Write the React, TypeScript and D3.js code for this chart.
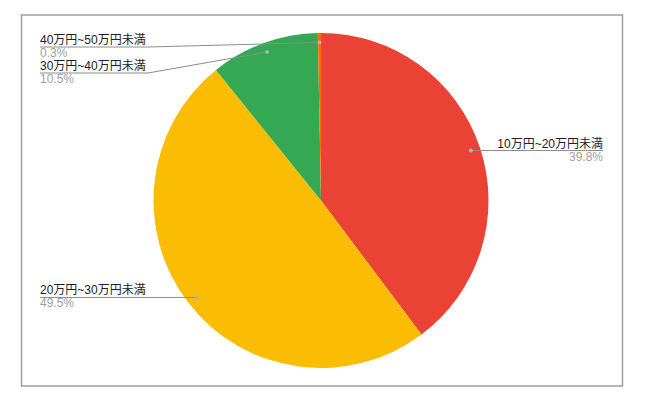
import React from 'react';
import * as d3 from 'd3';

// slice data, clockwise from 12 o'clock
const categories = ['10万円~20万円未満', '20万円~30万円未満', '30万円~40万円未満', '40万円~50万円未満'];
const shares = [39.8, 49.5, 10.5, 0.3];
const sliceColors = ['#ea4335', '#fbbc04', '#34a853', '#ff6d01'];

const W = 649;
const H = 405;
const cx = 321;
const cy = 200.5;
const R = 167.5;
const dotR = 158;
const FONT = '"Liberation Sans", Arial, "Noto Sans CJK JP", sans-serif';

interface Slice {
  name: string;
  value: number;
  color: string;
}

const App: React.FC = () => {
  const data: Slice[] = categories.map((c, i) => ({ name: c, value: shares[i], color: sliceColors[i] }));

  const pie = d3.pie<Slice>().value(d => d.value).sort(null);
  const arcs = pie(data);
  const arc = d3.arc<d3.PieArcDatum<Slice>>().innerRadius(0).outerRadius(R);

  // anchor points for the leader lines
  const anchors = arcs.map(a => {
    const mid = (a.startAngle + a.endAngle) / 2;
    return { a, mid, x: cx + dotR * Math.sin(mid), y: cy - dotR * Math.cos(mid) };
  });

  // right side: labels sit level with their dots; left side: stack from top
  const right = anchors.filter(p => p.mid < Math.PI);
  const left = anchors.filter(p => p.mid >= Math.PI).sort((p, q) => p.y - q.y);
  let prev = -Infinity;
  const leftY = left.map(p => {
    const y = Math.max(p.y, 47, prev + 26);
    prev = y;
    return y;
  });

  const leftX = 40;
  const rightX = 603;

  return (
    <div style={{ position: 'absolute', left: 0, top: 0 }}>
      <svg width={W} height={H} style={{ display: 'block', background: '#fff' }}>
        <rect x={21.5} y={15} width={601} height={371} fill="#fff" stroke="#9e9e9e" strokeWidth={1.5} />
        <g transform={`translate(${cx},${cy})`}>
          {arcs.map(a => (
            <path key={a.data.name} d={arc(a) || ''} fill={a.data.color} />
          ))}
        </g>
        {right.map(p => (
          <g key={p.a.data.name} fontFamily={FONT} fontSize={12}>
            <line x1={p.x} y1={p.y} x2={rightX} y2={p.y} stroke="#8c8c8c" strokeWidth={1} />
            <circle cx={p.x} cy={p.y} r={2} fill="#b0b0b0" />
            <text x={rightX} y={p.y - 3} textAnchor="end" fill="#222">{p.a.data.name}</text>
            <text x={rightX} y={p.y + 10} textAnchor="end" fill="#9e9e9e">{p.a.data.value.toFixed(1)}%</text>
          </g>
        ))}
        {left.map((p, i) => {
          const ly = leftY[i];
          const textEnd = leftX + 108;
          const path = Math.abs(ly - p.y) < 0.5
            ? `M${leftX},${ly}L${p.x},${p.y}`
            : `M${leftX},${ly}L${textEnd},${ly}L${p.x},${p.y}`;
          return (
            <g key={p.a.data.name} fontFamily={FONT} fontSize={12}>
              <path d={path} fill="none" stroke="#8c8c8c" strokeWidth={1} />
              <circle cx={p.x} cy={p.y} r={2} fill="#b0b0b0" />
              <text x={leftX} y={ly - 3} fill="#222">{p.a.data.name}</text>
              <text x={leftX} y={ly + 10} fill="#9e9e9e">{p.a.data.value.toFixed(1)}%</text>
            </g>
          );
        })}
      </svg>
    </div>
  );
};

export default App;
